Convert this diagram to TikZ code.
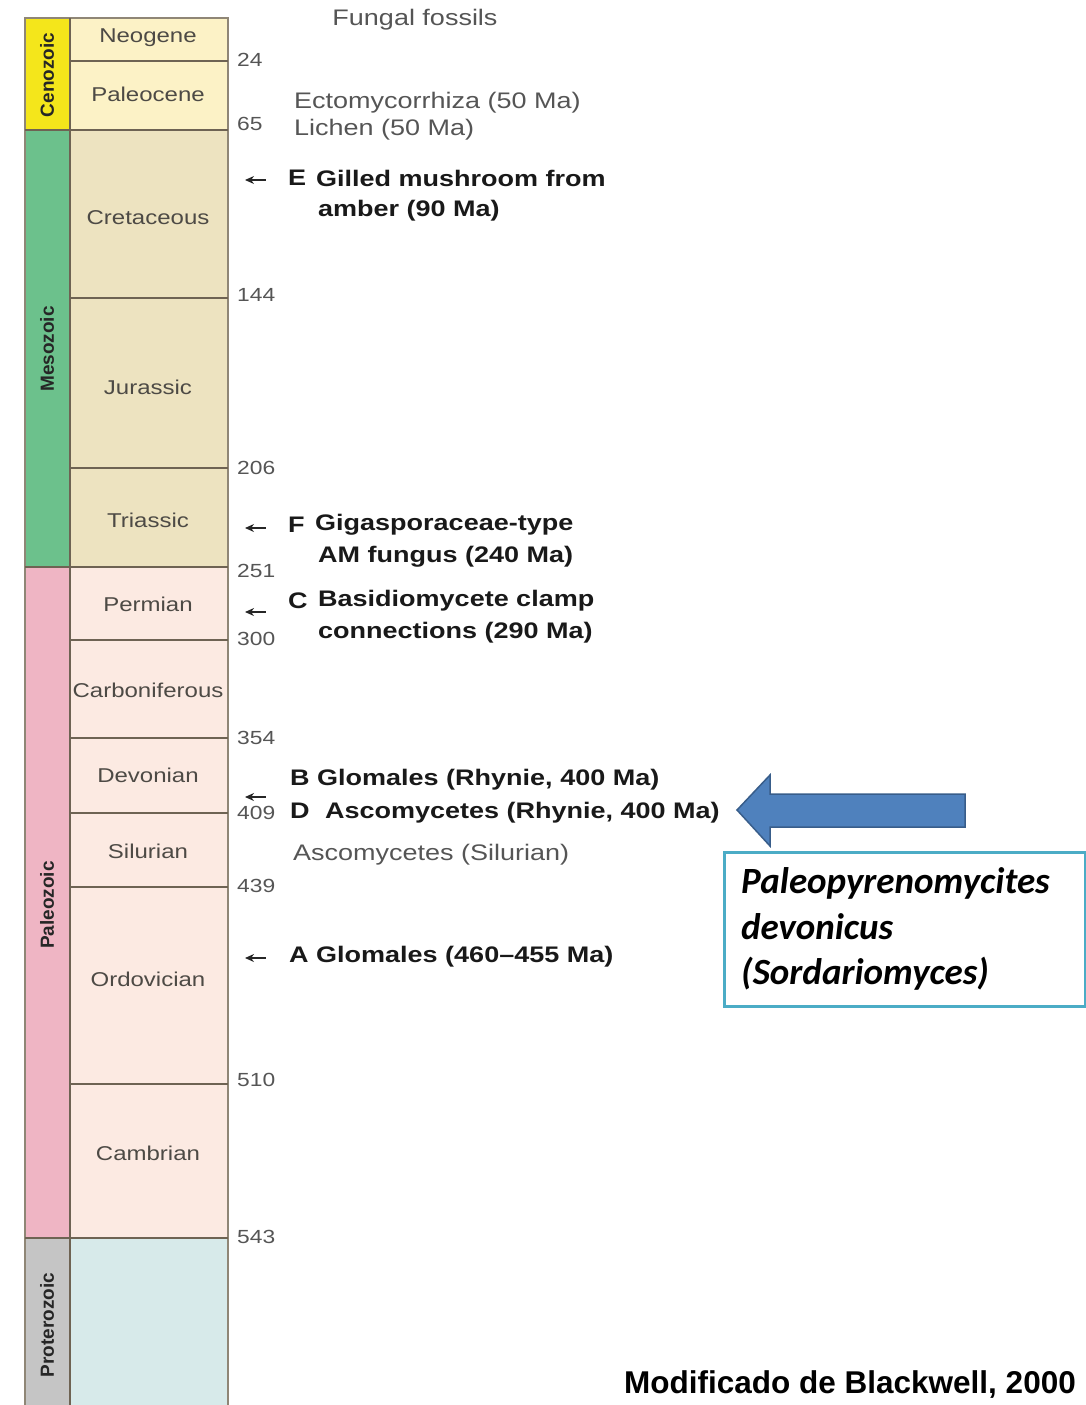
\documentclass[tikz,border=0pt]{standalone}
\usepackage{fontspec}
\setmainfont{Liberation Sans}
\newfontfamily\widesans{Liberation Sans}[FakeStretch=1.2]
\newfontfamily\boxfont{Carlito}
\usetikzlibrary{arrows.meta,positioning,calc}
\definecolor{cenoEra}{HTML}{F4E61B}
\definecolor{mesoEra}{HTML}{6CC18C}
\definecolor{paleoEra}{HTML}{EFB5C4}
\definecolor{protEra}{HTML}{C5C5C5}
\definecolor{cenoPer}{HTML}{FCF2C6}
\definecolor{mesoPer}{HTML}{EDE3C0}
\definecolor{paleoPer}{HTML}{FCEAE2}
\definecolor{protPer}{HTML}{D7EAEA}
\definecolor{ruleCol}{HTML}{6E6353}
\definecolor{frameCol}{HTML}{8F8676}
\definecolor{perTxt}{HTML}{4D4A45}
\definecolor{greyTxt}{HTML}{555555}
\definecolor{blueArr}{HTML}{4F81BD}
\definecolor{blueEdge}{HTML}{385D8A}
\definecolor{boxTeal}{HTML}{4BACC6}

\begin{document}
\begin{tikzpicture}[x=1pt,y=-1pt,>={Stealth[length=9pt,width=8pt]},
  per/.style={font=\widesans\fontsize{20}{22}\selectfont,text=perTxt,inner sep=0pt},
  era/.style={rotate=90,font=\bfseries\fontsize{19}{20}\selectfont,text=black!85,inner sep=0pt},
  age/.style={anchor=west,font=\widesans\fontsize{19}{20}\selectfont,text=greyTxt,inner sep=0pt},
  fos/.style={anchor=west,font=\widesans\bfseries\fontsize{22.5}{24}\selectfont,text=black!90,inner sep=0pt},
  fnt/.style={anchor=west,font=\widesans\fontsize{22.5}{24}\selectfont,text=greyTxt,inner sep=0pt},
  pin/.style={<-,line width=1.3pt,black!85},
  bnd/.style={draw=ruleCol,line width=2.2pt}]
  \useasboundingbox (0,0) rectangle (1085,1405);
  % eras
  \foreach \en/\et/\eb/\ec/\ey in {Cenozoic/18/130/cenoEra/75,Mesozoic/130/567/mesoEra/349,
      Paleozoic/567/1238/paleoEra/905,Proterozoic/1238/1405/protEra/1325}{
    \fill[\ec] (25,\et) rectangle (70,\eb);
    \node[era] (e\en) at (47,\ey) {\en};
  }
  % periods
  \foreach \pn/\pt/\pb/\pc/\py in {Neogene/18/61/cenoPer/38,Paleocene/61/130/cenoPer/94,
      Cretaceous/130/298/mesoPer/218,Jurassic/298/468/mesoPer/387,Triassic/468/567/mesoPer/520,
      Permian/567/640/paleoPer/604,Carboniferous/640/738/paleoPer/690,Devonian/738/813/paleoPer/775,
      Silurian/813/887/paleoPer/851,Ordovician/887/1084/paleoPer/979,Cambrian/1084/1238/paleoPer/1153}{
    \fill[\pc] (70,\pt) rectangle (228,\pb);
    \node[per] (p\pn) at (148,\py) {\pn};
  }
  \fill[protPer] (70,1238) rectangle (228,1405);
  % frame
  \draw[frameCol,line width=2pt] (25,1405) -- (25,18) -- (228,18) -- (228,1405);
  \draw[ruleCol,line width=2pt] (70,18) -- (70,1405);
  % boundaries and ages
  \foreach \ma/\by/\bx/\ny in {24/61/70/60,65/130/25/124,144/298/70/295,206/468/70/468,
      251/567/25/571,300/640/70/639,354/738/70/738,409/813/70/813,439/887/70/886,
      510/1084/70/1080,543/1238/25/1237}{
    \draw[bnd] (\bx,\by) -- (228,\by);
    \node[age] (a\ma) at (237,\ny) {\ma};
  }
  % fossils
  \node[fnt,anchor=center] (head) at (415,20) {Fungal fossils};
  \node[fnt] (ecto) at (294,103) {Ectomycorrhiza (50 Ma)};
  \node[fnt] (lich) at (294,130) {Lichen (50 Ma)};
  \node[fos] (fE) at (288,178) {E};
  \node[fos] (fE1) at (316,178) {Gilled mushroom from};
  \node[fos] (fE2) at (318,211) {amber (90 Ma)};
  \node[fos] (fF) at (288,525) {F};
  \node[fos] (fF1) at (315,525) {Gigasporaceae-type};
  \node[fos] (fF2) at (318,557) {AM fungus (240 Ma)};
  \node[fos] (fC) at (288,601) {C};
  \node[fos] (fC1) at (318,601) {Basidiomycete clamp};
  \node[fos] (fC2) at (318,633) {connections (290 Ma)};
  \node[fos] (fB) at (290,780) {B Glomales (Rhynie, 400 Ma)};
  \node[fos] (fD) at (290,813) {D\hspace{0.35em} Ascomycetes (Rhynie, 400 Ma)};
  \node[fnt] (silu) at (293,855) {Ascomycetes (Silurian)};
  \node[fos] (fA) at (289,957) {A Glomales (460–455 Ma)};
  % little arrows
  \foreach \k/\yy in {E/180,F/528,C/612,B/797,A/958}{
    \coordinate (t\k) at (245,\yy);
    \draw[pin] (t\k) -- ++(21,0);
  }
  % block arrow and box
  \draw[blueEdge,fill=blueArr,line width=1.5pt,line join=miter]
    (737,810) -- (770,775) -- (770,794) -- (965,794) -- (965,827) -- (770,827) -- (770,846) -- cycle;
  \node[draw=boxTeal,line width=3pt,fill=white,minimum width=361pt,minimum height=154pt,
    anchor=north west,inner sep=0pt] (sp) at (723,851) {};
  \node[anchor=west,align=left,font=\boxfont\bfseries\itshape\fontsize{37}{45.5}\selectfont,inner sep=0pt]
    (spt) at (741,929) {Paleopyrenomycites\\devonicus\\(Sordariomyces)};
  % credit
  \node[anchor=east,font=\bfseries\fontsize{31.5}{33}\selectfont,inner sep=0pt] (cred) at (1076,1385)
    {Modificado de Blackwell, 2000};
\end{tikzpicture}
\end{document}
